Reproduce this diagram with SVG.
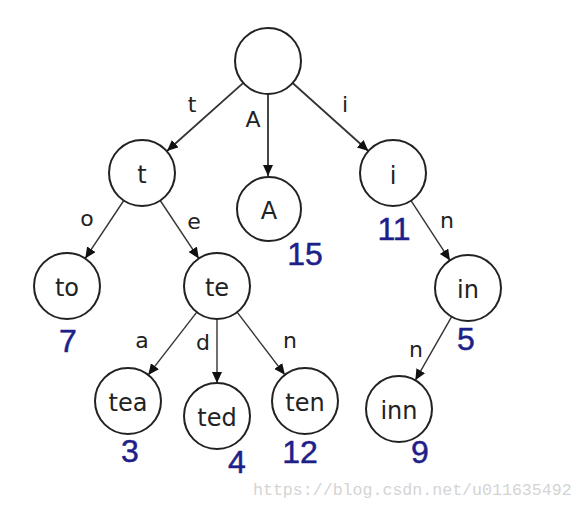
<svg xmlns="http://www.w3.org/2000/svg" width="584" height="508" viewBox="0 0 584 508">
<defs>
<marker id="ah" markerUnits="userSpaceOnUse" markerWidth="14" markerHeight="12" refX="11" refY="5" orient="auto">
<path d="M0,0 L11,5 L0,10 z" fill="#111"/>
</marker>
<style>
.node circle{fill:#fff;stroke:#222;stroke-width:2}
.node text{font-family:"DejaVu Sans",sans-serif;font-size:24px;fill:#222;text-anchor:middle}
.edges line{stroke:#333;stroke-width:1.4;marker-end:url(#ah)}
.edges line.top{stroke-width:1.8}
.el{font-family:"DejaVu Sans",sans-serif;font-size:22px;fill:#222;text-anchor:middle}
.num{font-family:"Liberation Sans",sans-serif;font-size:32px;fill:#1f1f8a;text-anchor:middle;stroke:#1f1f8a;stroke-width:0.5}
.wm{font-family:"Liberation Mono",monospace;font-size:16.6px;fill:#d4d4d4}
</style>
</defs>
<rect width="584" height="508" fill="#fff"/>
<g id="connectors" class="edges">
<line class="top" x1="243.3" y1="82.9" x2="167" y2="151"/>
<line class="top" x1="268" y1="94" x2="268" y2="176"/>
<line class="top" x1="292.6" y1="83" x2="368.4" y2="151"/>
<line x1="123.8" y1="200.5" x2="85.2" y2="258.5"/>
<line x1="160.2" y1="200.5" x2="198.8" y2="258.5"/>
<line x1="196.8" y1="312.1" x2="148.2" y2="374.9"/>
<line x1="217" y1="319" x2="217" y2="383"/>
<line x1="237.1" y1="312.2" x2="284.9" y2="374.8"/>
<line x1="411" y1="200.6" x2="450" y2="260.4"/>
<line x1="451.7" y1="316.7" x2="415.3" y2="380.3"/>
</g>
<g id="edge-labels">
<text class="el" x="192" y="112">t</text>
<text class="el" x="253" y="127">A</text>
<text class="el" x="345" y="112">i</text>
<text class="el" x="87" y="226">o</text>
<text class="el" x="194" y="229">e</text>
<text class="el" x="142" y="348">a</text>
<text class="el" x="203" y="350">d</text>
<text class="el" x="290" y="348">n</text>
<text class="el" x="447" y="228">n</text>
<text class="el" x="416" y="357">n</text>
</g>
<g id="root" class="node"><circle cx="268" cy="61" r="33"/></g>
<g id="node-t" class="node"><circle cx="142" cy="173" r="33"/><text x="142" y="183">t</text></g>
<g id="node-A" class="node"><circle cx="269" cy="209" r="32"/><text x="269" y="219">A</text></g>
<g id="node-i" class="node"><circle cx="393" cy="173" r="33"/><text x="393" y="184">i</text></g>
<g id="node-to" class="node"><circle cx="67" cy="286" r="33"/><text x="67" y="296">to</text></g>
<g id="node-te" class="node"><circle cx="217" cy="286" r="33"/><text x="217" y="296">te</text></g>
<g id="node-in" class="node"><circle cx="468" cy="288" r="33"/><text x="468" y="298">in</text></g>
<g id="node-tea" class="node"><circle cx="128" cy="401" r="33"/><text x="128" y="411">tea</text></g>
<g id="node-ted" class="node"><circle cx="217" cy="416" r="33"/><text x="217" y="426">ted</text></g>
<g id="node-ten" class="node"><circle cx="305" cy="401" r="33"/><text x="305" y="411">ten</text></g>
<g id="node-inn" class="node"><circle cx="399" cy="409" r="33"/><text x="399" y="419">inn</text></g>
<g id="values">
<text class="num" x="305" y="265">15</text>
<text class="num" x="394" y="240">11</text>
<text class="num" x="68" y="352">7</text>
<text class="num" x="130" y="462">3</text>
<text class="num" x="237" y="473">4</text>
<text class="num" x="300" y="463">12</text>
<text class="num" x="466" y="350">5</text>
<text class="num" x="420" y="463">9</text>
</g>
<text class="wm" x="253" y="495">https://blog.csdn.net/u011635492</text>
</svg>
